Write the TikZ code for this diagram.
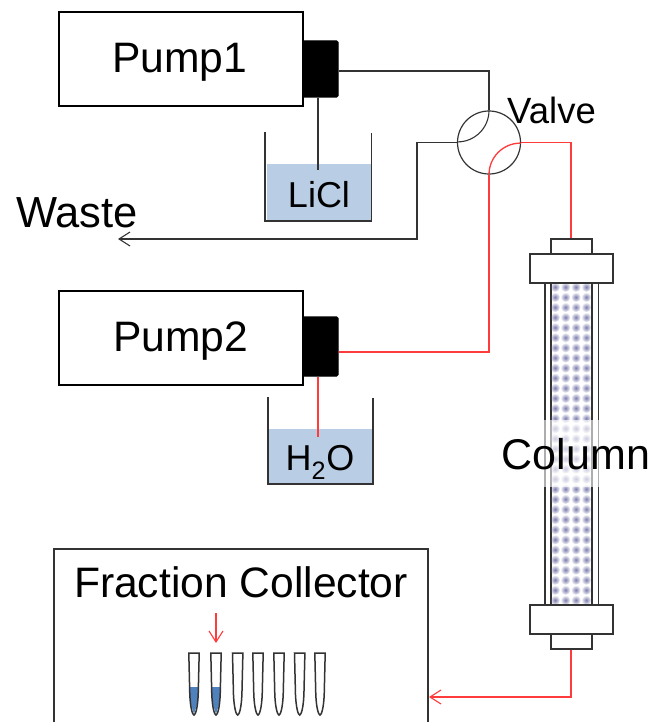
\documentclass[tikz,border=0pt]{standalone}
\usepackage{fontspec}
\setmainfont{Liberation Sans}
\usetikzlibrary{arrows.meta, positioning, calc, fadings}
\definecolor{cliquid}{HTML}{B9CDE5}
\definecolor{cfill}{HTML}{4F81BD}
\definecolor{cred}{HTML}{FF3B3B}
\definecolor{cdot}{HTML}{7C7CAE}
\definecolor{cline}{HTML}{333333}
\tikzset{
  every picture/.style={line width=1.4pt},
  box/.style={draw=black, fill=white, minimum width=#1, inner sep=0pt},
  box/.default=244pt,
  head/.style={draw=black, fill=black, rounded corners=1.5pt, minimum width=35pt, inner sep=0pt},
  part/.style={draw=cline, fill=white, line width=1.5pt, inner sep=0pt},
  label/.style={font=\fontsize{42.6}{43}\selectfont, inner sep=0pt},
  smalllabel/.style={font=\fontsize{36}{36}\selectfont, inner sep=0pt},
  tubeblack/.style={draw=cline, line width=1.1pt},
  tubered/.style={draw=cred, line width=1.3pt},
  arrow/.style={-{Straight Barb[length=11pt,width=14pt,line width=1.1pt]}},
  liquid/.style={fill=cliquid, draw=none, inner sep=0pt},
  dot/.style={circle, fill=cdot, minimum size=10pt, inner sep=0pt, path fading=dotfade},
}
\tikzfading[name=dotfade, inner color=transparent!0, outer color=transparent!100]
\begin{document}
\begin{tikzpicture}[x=1pt,y=-1pt]
  \useasboundingbox (0,0) rectangle (654,722);
  % Pumps
  \node[box, minimum height=94pt] (pumpa) at (181,59) {};
  \node[label] (pumpatext) at (179.5,62) {Pump1};
  \node[head, minimum height=56pt] (heada) at (320.5,69) {};
  \node[box, minimum height=94pt] (pumpb) at (181,338) {};
  \node[label] (pumpbtext) at (180.5,341) {Pump2};
  \node[head, minimum height=59pt] (headb) at (320.5,346.5) {};
  % Beakers
  \node[liquid, minimum width=104pt, minimum height=57pt] (licl) at (319,192.5) {};
  \node[smalllabel] (licltext) at (319,195) {LiCl};
  \draw[line width=1.1pt, draw=cline] (265,132) -- (265,221) -- (371.5,221) -- (371.5,133);
  \node[liquid, minimum width=104pt, minimum height=55pt] (water) at (320.5,456.5) {};
  \node[smalllabel] (watertext) at (320,462) {H\textsubscript{2}O};
  \draw[line width=1.1pt, draw=cline] (268,397) -- (268,484) -- (373,484) -- (373,398);
  % Valve
  \node[circle, draw=cline, line width=1.2pt, fill=white, minimum size=63pt, inner sep=0pt] (valve) at (489,142.5) {};
  \node[font=\fontsize{36.5}{37}\selectfont, inner sep=0pt] (valvetext) at (551.5,110) {Valve};
  \coordinate (bendatop) at (489,71);
  \coordinate (wasteup) at (417,142.5);
  \coordinate (wastedown) at (417,239);
  \coordinate (redright) at (571,142.5);
  \coordinate (redlow) at (489,352);
  \draw[tubeblack] (heada.east |- bendatop) -- (bendatop) -- (valve.north);
  \draw[tubeblack] (valve.north) arc[start angle=0, end angle=-90, radius=31.5pt];
  \draw[tubeblack] (heada.south -| 318,0) -- (318,170);
  \draw[tubeblack, arrow] (valve.west) -- (wasteup) -- (wastedown) -- (118,239);
  \node[label, font=\fontsize{43.5}{44}\selectfont] (wastetext) at (77,213) {Waste};
  \draw[tubered] (valve.south) arc[start angle=180, end angle=90, radius=31.5pt];
  \draw[tubered] (valve.east) -- (redright);
  \draw[tubered] (headb.east |- redlow) -- (redlow) -- (valve.south);
  \draw[tubered] (headb.south -| 318,0) -- (318,437);
  % Column
  \draw[part, line width=1.3pt] (545,283) -- (545,605) (598.5,283) -- (598.5,605)
    (551,283) -- (551,605) (592,283) -- (592,605);
  \foreach \r in {0,...,31}{\foreach \c in {0,...,3}{
    \node[dot] at (555+\c*10.4,287+\r*10.1) {};
  }}
  \draw[draw=black, line width=2pt] (551,604.5) -- (592,604.5);
  \fill[white, opacity=0.6] (544,420) rectangle (600,487);
  \node[label, font=\fontsize{43}{44}\selectfont] (columntext) at (576,454.5) {Column};
  \node[part, minimum width=41pt, minimum height=15pt] (captop) at (571.5,246.5) {};
  \node[part, minimum width=83pt, minimum height=29pt] (collara) at (571.5,268.5) {};
  \node[part, minimum width=83pt, minimum height=29pt] (collarb) at (571.5,619.5) {};
  \node[part, minimum width=41pt, minimum height=15pt] (capbot) at (571.5,641.5) {};
  \draw[tubered] (redright) -- (captop.north -| redright);
  % Fraction collector
  \draw[line width=1.1pt, draw=cline] (54,722) -- (54,549) -- (428,549) -- (428,722);
  \node[label] (fractext) at (241,582.5) {Fraction Collector};
  \coordinate (colbend) at (571,697);
  \coordinate (colend) at (429,697);
  \draw[tubered, arrow] (capbot.south -| colbend) -- (colbend) -- (colend);
  \coordinate (droptop) at (216,613);
  \coordinate (dropend) at (216,643);
  \draw[tubered, arrow] (droptop) -- (dropend);
  % Tubes
  \foreach \x/\lev in {194/1,216/1,237.7/0,258/0,279/0,299.7/0,320/0}{
    \ifnum\lev=1
      \fill[cfill] (\x-4.5,687) -- (\x+4.5,687) -- (\x+3.5,703) -- (\x,714) -- (\x-3.5,703) -- cycle;
    \fi
    \draw[line width=1.5pt, draw=cline] (\x-5.2,653) -- (\x+5.2,653) -- (\x+4.2,695) .. controls (\x+3.6,708) and (\x+1.5,715) .. (\x,715) .. controls (\x-1.5,715) and (\x-3.6,708) .. (\x-4.2,695) -- cycle;
  }
\end{tikzpicture}
\end{document}
